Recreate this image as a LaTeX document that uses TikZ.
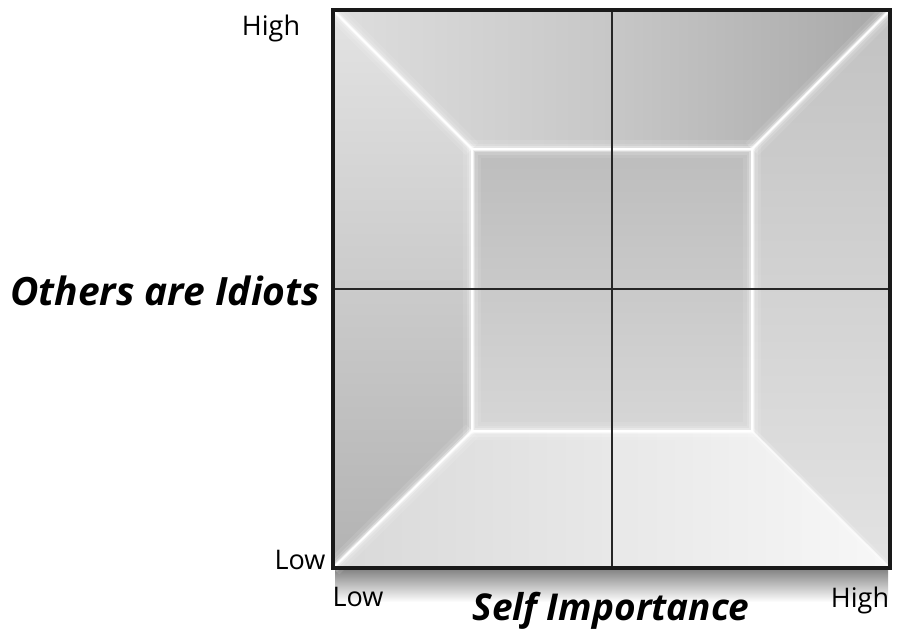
\documentclass[tikz,border=0pt]{standalone}
\usepackage{fontspec}
\setmainfont{Open Sans}
\begin{document}
\begin{tikzpicture}[x=1pt,y=-1pt,
  glowA/.style={white,line width=18pt,opacity=.10},
  glowB/.style={white,line width=11pt,opacity=.15},
  glowC/.style={white,line width=6pt,opacity=.3},
  glowD/.style={white,line width=3pt,opacity=.6},
  glowE/.style={white,line width=1.5pt},
  axislbl/.style={font=\fontsize{27}{31}\selectfont,text=black,inner sep=0pt},
  titlelbl/.style={font=\fontsize{37}{42}\selectfont\bfseries\itshape,text=black,inner sep=0pt}]
\useasboundingbox (0,0) rectangle (899,634);
\fill[white] (0,0) rectangle (899,634);
% corner coordinates
\coordinate (o1) at (333,10);
\coordinate (o2) at (890,10);
\coordinate (o3) at (890,568);
\coordinate (o4) at (333,568);
\coordinate (i1) at (472,149);
\coordinate (i2) at (752,149);
\coordinate (i3) at (752,431);
\coordinate (i4) at (472,431);
% shadow under the square
\shade[top color=black!50,bottom color=white] (335,568) rectangle (888,602);
% top panel
\begin{scope}
\clip (o1)--(o2)--(i2)--(i1)--cycle;
\shade[left color=black!13,right color=black!34,middle color=black!22] (333,10) rectangle (890,149);
\end{scope}
% left panel
\begin{scope}
\clip (o1)--(i1)--(i4)--(o4)--cycle;
\shade[top color=black!11,bottom color=black!30] (333,10) rectangle (472,568);
\end{scope}
% right panel
\begin{scope}
\clip (o2)--(o3)--(i3)--(i2)--cycle;
\shade[top color=black!24,bottom color=black!11] (752,10) rectangle (890,568);
\end{scope}
% bottom panel
\begin{scope}
\clip (o4)--(i4)--(i3)--(o3)--cycle;
\shade[left color=black!15,right color=black!3] (333,431) rectangle (890,568);
\end{scope}
% inner square
\shade[top color=black!26,bottom color=black!16] (i1) rectangle (i3);
% glowing edges
\foreach \s in {glowA,glowB,glowC,glowD,glowE}{
  \draw[\s] (o1)--(i1) (o2)--(i2) (o4)--(i4);
  \draw[\s] (i1)--(i2)--(i3)--(i4)--cycle;
}
\draw[white,line width=7pt,opacity=.2] (o3)--(i3);
\draw[white,line width=2pt,opacity=.6] (o3)--(i3);
% dividers
\draw[black!85,line width=2.6pt] (612,10)--(612,568);
\draw[black!85,line width=2.6pt] (333,289)--(890,289);
% frame
\draw[black!90,line width=3.2pt] (o1) rectangle (o3);
% labels
\node[axislbl] (yhigh) at (271,28) {High};
\node[axislbl] (ylow) at (300,560) {Low};
\node[axislbl] (xlow) at (358,597) {Low};
\node[axislbl] (xhigh) at (860,600) {High};
\node[titlelbl,font=\fontsize{39}{44}\selectfont\bfseries\itshape] (ytitle) at (165,291) {Others are Idiots};
\node[titlelbl] (xtitle) at (611,611) {Self Importance};
\end{tikzpicture}
\end{document}
